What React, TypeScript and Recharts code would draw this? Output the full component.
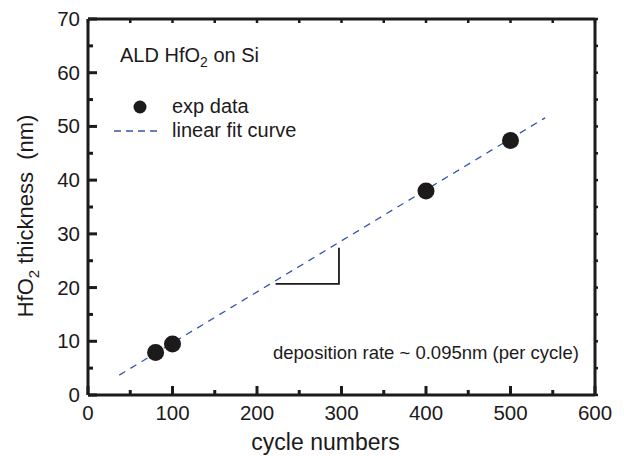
import {
  ComposedChart,
  Scatter,
  Line,
  XAxis,
  YAxis,
  Customized,
} from "recharts";

// measured points (cycles -> thickness in nm)
const cycles = [80, 100, 400, 500];
const thickness = [7.9, 9.5, 38.0, 47.4];

// linear fit, ~0.095 nm per cycle
const fitCycles = [37, 541];
const fitThickness = [3.7, 51.6];

// little slope triangle under the fit
const slopeCycles = [222, 297, 297];
const slopeThickness = [20.7, 20.7, 27.4];

const xTicks = [0, 50, 100, 150, 200, 250, 300, 350, 400, 450, 500, 550, 600];
const yTicks = [0, 5, 10, 15, 20, 25, 30, 35, 40, 45, 50, 55, 60, 65, 70];

const expData = cycles.map((x, i) => ({ x, y: thickness[i] }));
const fitData = fitCycles.map((x, i) => ({ x, y: fitThickness[i] }));
const slopeData = slopeCycles.map((x, i) => ({ x, y: slopeThickness[i] }));

const FONT = "'Liberation Sans', Arial, Helvetica, sans-serif";
const INK = "#1c1a1b";
const BLUE = "#3456b0";

const BottomTick = (p: any) => {
  const v = p.payload.value;
  const major = v % 100 === 0;
  return (
    <g>
      <line x1={p.x} x2={p.x} y1={p.y} y2={p.y - (major ? 9 : 5)} stroke={INK} strokeWidth={3} />
      {major && (
        <text x={p.x} y={p.y + 25} textAnchor="middle" fontSize={20.5} fontFamily={FONT} fill={INK}>
          {v}
        </text>
      )}
    </g>
  );
};

const LeftTick = (p: any) => {
  const v = p.payload.value;
  const major = v % 10 === 0;
  return (
    <g>
      <line x1={p.x} x2={p.x + (major ? 9 : 5)} y1={p.y} y2={p.y} stroke={INK} strokeWidth={3} />
      {major && (
        <text x={p.x - 8} y={p.y + 7} textAnchor="end" fontSize={20.5} fontFamily={FONT} fill={INK}>
          {v}
        </text>
      )}
    </g>
  );
};

const TopTick = (p: any) => (
  <line x1={p.x} x2={p.x} y1={p.y} y2={p.y + 4} stroke={INK} strokeWidth={2.5} />
);

const RightTick = (p: any) => (
  <line x1={p.x} x2={p.x + 3} y1={p.y} y2={p.y} stroke={INK} strokeWidth={2.5} />
);

const XTitle = (p: any) => {
  const vb = p.viewBox;
  return (
    <text x={vb.x + vb.width / 2 - 16} y={vb.y + 55} textAnchor="middle" fontSize={23} fontFamily={FONT} fill={INK}>
      cycle numbers
    </text>
  );
};

const YTitle = (p: any) => {
  const vb = p.viewBox;
  const cx = 33;
  const cy = vb.y + vb.height / 2 + 9;
  return (
    <text
      x={cx}
      y={cy}
      transform={`rotate(-90, ${cx}, ${cy})`}
      textAnchor="middle"
      fontSize={22}
      fontFamily={FONT}
      fill={INK}
    >
      HfO
      <tspan fontSize={15} dy={6}>2</tspan>
      <tspan dy={-6}>{" thickness\u00a0\u00a0(nm)"}</tspan>
    </text>
  );
};

// legend + free text inside the frame
const Notes = (p: any) => {
  const left = p.offset?.left ?? 88;
  const top = p.offset?.top ?? 19;
  return (
    <g fontFamily={FONT} fill={INK}>
      <text x={left + 32} y={top + 43} fontSize={20}>
        ALD HfO
        <tspan fontSize={14} dy={5}>2</tspan>
        <tspan dy={-5}> on Si</tspan>
      </text>
      <circle cx={left + 52} cy={top + 88} r={6.5} fill={INK} />
      <text x={left + 84} y={top + 94} fontSize={20}>
        exp data
      </text>
      <line
        x1={left + 26}
        x2={left + 74}
        y1={top + 112}
        y2={top + 112}
        stroke={BLUE}
        strokeWidth={1.3}
        strokeDasharray="7 5"
      />
      <text x={left + 84} y={top + 118} fontSize={20}>
        linear fit curve
      </text>
      <text x={left + 185} y={top + 340} fontSize={18.5}>
        deposition rate ~ 0.095nm (per cycle)
      </text>
    </g>
  );
};

export default function App() {
  return (
    <div style={{ position: "absolute", left: 0, top: 0, width: 624, height: 456, background: "#fff" }}>
      <ComposedChart width={624} height={456} margin={{ top: 18, right: 28, left: 0, bottom: 0 }}>
        <XAxis
          xAxisId={0}
          dataKey="x"
          type="number"
          domain={[0, 600]}
          ticks={xTicks}
          interval={0}
          height={61}
          tickSize={0}
          tickMargin={0}
          tickLine={false}
          tick={BottomTick}
          axisLine={{ stroke: INK, strokeWidth: 3 }}
          allowDataOverflow
          label={<XTitle />}
        />
        <XAxis
          xAxisId="top"
          dataKey="x"
          orientation="top"
          type="number"
          domain={[0, 600]}
          ticks={xTicks}
          interval={0}
          height={1}
          tickSize={0}
          tickMargin={0}
          tickLine={false}
          tick={TopTick}
          axisLine={{ stroke: INK, strokeWidth: 3 }}
          allowDataOverflow
        />
        <YAxis
          yAxisId={0}
          dataKey="y"
          type="number"
          domain={[0, 70]}
          ticks={yTicks}
          interval={0}
          width={88}
          tickSize={0}
          tickMargin={0}
          tickLine={false}
          tick={LeftTick}
          axisLine={{ stroke: INK, strokeWidth: 3 }}
          allowDataOverflow
          label={<YTitle />}
        />
        <YAxis
          yAxisId="right"
          dataKey="y"
          orientation="right"
          type="number"
          domain={[0, 70]}
          ticks={yTicks}
          interval={0}
          width={1}
          tickSize={0}
          tickMargin={0}
          tickLine={false}
          tick={RightTick}
          axisLine={{ stroke: INK, strokeWidth: 3 }}
          allowDataOverflow
        />
        {/* invisible series so the top/right frame axes get drawn */}
        <Line
          xAxisId="top"
          yAxisId="right"
          data={fitData}
          dataKey="y"
          stroke="none"
          dot={false}
          activeDot={false}
          legendType="none"
          isAnimationActive={false}
        />
        <Line
          data={fitData}
          dataKey="y"
          type="linear"
          stroke={BLUE}
          strokeWidth={1.3}
          strokeDasharray="7 6"
          dot={false}
          activeDot={false}
          isAnimationActive={false}
        />
        <Line
          data={slopeData}
          dataKey="y"
          type="linear"
          stroke={INK}
          strokeWidth={1.8}
          dot={false}
          activeDot={false}
          isAnimationActive={false}
        />
        <Scatter
          data={expData}
          dataKey="y"
          isAnimationActive={false}
          shape={(p: any) => <circle cx={p.cx} cy={p.cy} r={8.5} fill={INK} />}
        />
        <Customized component={Notes} />
      </ComposedChart>
    </div>
  );
}
